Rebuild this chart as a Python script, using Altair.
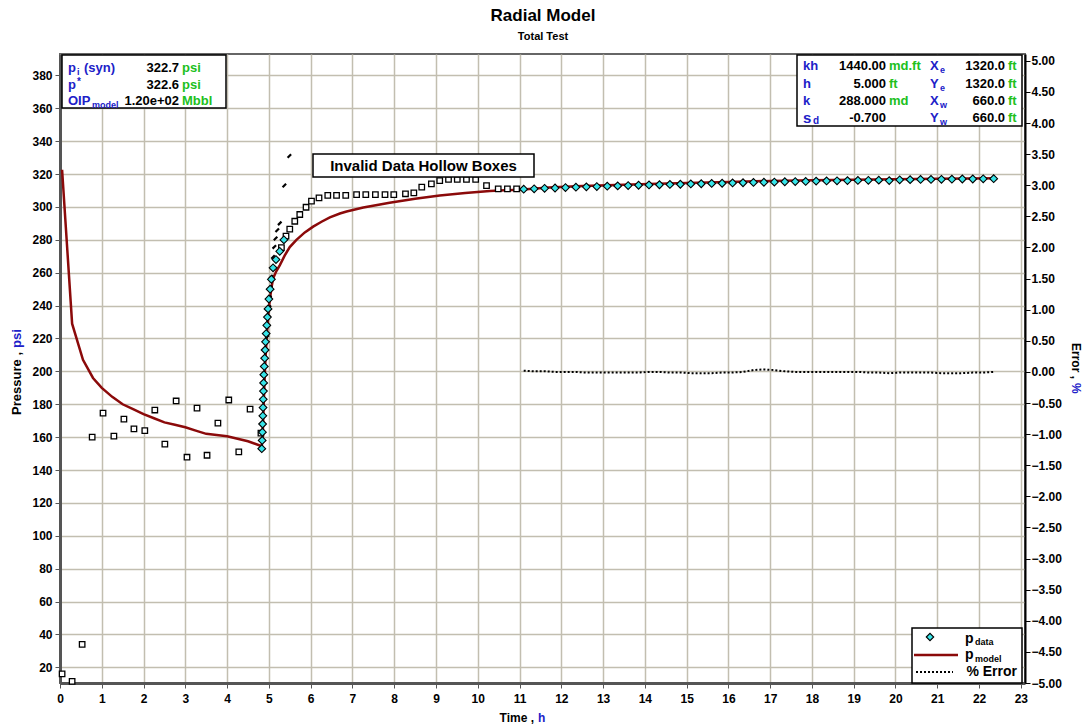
import altair as alt
import pandas as pd

# ---------------- data ----------------
# model pressure curve (p_model)
model_t = [0.05, 0.29, 0.55, 0.79, 1.0, 1.25, 1.5, 1.75, 2.0, 2.25, 2.5, 2.75, 3.0, 3.25, 3.5, 3.75, 4.0, 4.25, 4.5, 4.83,
           4.85, 4.87, 4.89, 4.91, 4.93, 4.95, 4.98, 5.02, 5.06, 5.10, 5.18, 5.26, 5.38, 5.50, 5.66, 5.86, 6.06, 6.26,
           6.46, 6.70, 6.86, 7.26, 7.66, 7.89, 8.5, 9.09, 9.7, 10.29, 11.08, 11.7, 12.5, 13.3, 14.1, 15.0, 16.0, 17.0,
           18.0, 19.0, 20.0, 21.0, 22.4]
model_p = [322.6, 229, 207, 196, 190, 184.5, 180, 177, 174, 171.5, 169, 167.5, 166, 164, 162, 161.3, 160.5, 159, 157.5, 154.5,
           160, 175, 190, 203, 213, 221, 233, 243, 250.5, 256.5, 261, 264.5, 270.5, 275.6, 280, 284.5, 288, 291,
           293.6, 296, 297.2, 299.7, 301.5, 302.5, 305, 307, 308.5, 309.7, 310.6, 311.8, 312.7, 313.4, 314.0, 314.6, 315.2, 315.8,
           316.3, 316.6, 316.9, 317.1, 317.4]

# measured data (p_data) - build-up part
pdata_build_t = [4.83, 4.84, 4.845, 4.85, 4.855, 4.86, 4.865, 4.87, 4.875, 4.88, 4.89, 4.90, 4.91, 4.92, 4.935, 4.95,
                 4.965, 4.98, 5.00, 5.03, 5.06, 5.10, 5.17, 5.26, 5.36]
pdata_build_p = [153, 158, 163, 168, 173, 178, 183, 188, 193, 198, 203, 208, 213, 218, 223, 228,
                 233, 238, 244, 250, 256, 263, 268, 273, 280]
# measured data (p_data) - late part
pdata_late_t = [11.10, 11.35, 11.60, 11.85, 12.10, 12.35, 12.60, 12.85, 13.10, 13.35, 13.60, 13.85, 14.10, 14.35, 14.60,
                14.85, 15.10, 15.35, 15.60, 15.85, 16.10, 16.35, 16.60, 16.85, 17.10, 17.35, 17.60, 17.85, 18.10, 18.35,
                18.60, 18.85, 19.10, 19.35, 19.60, 19.85, 20.10, 20.35, 20.60, 20.85, 21.10, 21.35, 21.60, 21.85, 22.10, 22.35]
pdata_late_p = [310.8, 311.0, 311.3, 311.5, 311.8, 312.0, 312.2, 312.4, 312.6, 312.8, 313.0, 313.2, 313.4, 313.5, 313.7,
                313.8, 314.0, 314.1, 314.3, 314.4, 314.6, 314.7, 314.9, 315.0, 315.1, 315.3, 315.4, 315.5, 315.7, 315.8,
                315.9, 316.0, 316.1, 316.2, 316.3, 316.0, 316.5, 316.6, 316.7, 316.7, 316.8, 316.9, 317.0, 317.0, 317.1, 317.2]

# invalid data (hollow boxes)
invalid_t = [0.05, 0.29, 0.53, 0.77, 1.03, 1.29, 1.53, 1.77, 2.03, 2.27, 2.51, 2.78, 3.04, 3.28, 3.52, 3.78, 4.04, 4.28,
             4.55, 4.81, 5.30, 5.41, 5.50, 5.62, 5.74, 5.89, 6.02, 6.20, 6.41, 6.62, 6.84, 7.10, 7.32, 7.55, 7.78, 7.99,
             8.27, 8.47, 8.66, 8.89, 9.09, 9.30, 9.51, 9.73, 9.95, 10.21, 10.49, 10.71, 10.93]
invalid_p = [16.0, 11.5, 34, 160, 174.6, 160.6, 171, 165, 164, 176.5, 155.8, 182, 147.8, 177.7, 149, 168.5, 182.6, 151,
             177, 162.5, 275.3, 282.2, 286.5, 291.3, 295.4, 299.8, 303.5, 305.5, 307, 307, 307, 307.5, 307.5, 307.5, 307.5, 307.5,
             308, 308.5, 312, 314, 316, 316.7, 316.7, 316.7, 316.7, 313, 311, 311, 311]

# small black markers on the build-up
dots_t = [4.96, 4.98, 4.99, 5.01, 5.02, 5.04, 5.05, 5.08, 5.10, 5.13, 5.16, 5.20, 5.26, 5.37, 5.49]
dots_p = [221, 227, 233, 239, 245, 251, 257.5, 263.5, 269.6, 275.7, 280.8, 285.8, 290, 313, 331]

# % error
err_t = pdata_late_t
err_v = [0.02, 0.01, 0.01, 0.0, 0.0, 0.0, -0.01, -0.01, -0.01, -0.01, -0.01, -0.01, 0.0, 0.0, -0.01,
         -0.01, -0.02, -0.02, -0.02, -0.01, -0.01, 0.0, 0.03, 0.04, 0.03, 0.01, 0.0, 0.0, 0.0, 0.0,
         0.0, 0.0, 0.0, -0.01, -0.01, -0.02, -0.01, -0.01, -0.01, -0.01, -0.02, -0.02, -0.02, -0.01, -0.01, 0.0]

x_ticks = [0, 1, 2, 3, 4, 5, 6, 7, 8, 9, 10, 11, 12, 13, 14, 15, 16, 17, 18, 19, 20, 21, 22, 23]
y_ticks = [20, 40, 60, 80, 100, 120, 140, 160, 180, 200, 220, 240, 260, 280, 300, 320, 340, 360, 380]
err_ticks = [-5.0, -4.5, -4.0, -3.5, -3.0, -2.5, -2.0, -1.5, -1.0, -0.5, 0.0, 0.5, 1.0, 1.5, 2.0, 2.5, 3.0, 3.5, 4.0, 4.5, 5.0]

# ---------------- style ----------------
FONT = "Liberation Sans"
BLUE = "#2020c8"
GREEN = "#20c020"
RED = "#8b0a0a"
CYAN = "#38e4e8"
GRID = "#c2beb0"
OX, OY = 60, 54
W, H = 965, 629

model_df = pd.DataFrame({"t": model_t, "p": model_p})
pdata_df = pd.DataFrame({"t": pdata_build_t + pdata_late_t, "p": pdata_build_p + pdata_late_p})
inv_df = pd.DataFrame({"t": invalid_t, "p": invalid_p})
dots_df = pd.DataFrame({"t": dots_t, "p": dots_p})
err_df = pd.DataFrame({"t": err_t, "e": err_v})
dummy = pd.DataFrame({"d": [0]})


def X():
    return alt.X("t:Q", scale=alt.Scale(domain=[0, 23.1], nice=False, zero=False),
                 axis=alt.Axis(values=x_ticks, title=None, grid=True, gridColor=GRID, gridWidth=1.5,
                               labelFont=FONT, labelFontWeight="bold", labelFontSize=12, labelColor="black",
                               tickColor="#555", tickSize=5, domainColor="#555", domainWidth=3,
                               labelPadding=5, labelFlush=False, labelOverlap=False, format="d"))


def Y():
    return alt.Y("p:Q", scale=alt.Scale(domain=[10.5, 393], nice=False, zero=False),
                 axis=alt.Axis(values=y_ticks, title=None, grid=True, gridColor=GRID, gridWidth=1.5,
                               labelFont=FONT, labelFontWeight="bold", labelFontSize=12, labelColor="black",
                               tickColor="#555", tickSize=5, domainColor="#555", domainWidth=3,
                               labelPadding=3, labelFlush=False, labelOverlap=False, format="d"))


model_line = alt.Chart(model_df).mark_line(color=RED, strokeWidth=2.5).encode(x=X(), y=Y(), order="t:Q")
inv_pts = alt.Chart(inv_df).mark_square(filled=True, fill="white", stroke="black", strokeWidth=1.3,
                                        size=30, opacity=1).encode(x=X(), y=Y())
pdata_pts = alt.Chart(pdata_df).mark_point(shape="diamond", filled=True, fill=CYAN, stroke="black",
                                           strokeWidth=1.1, size=60, opacity=1).encode(x=X(), y=Y())
dot_pts = alt.Chart(dots_df).mark_point(shape="M -1 1 L 1 -1", filled=False, stroke="black",
                                        strokeWidth=2.2, size=12, opacity=1).encode(x=X(), y=Y())

pressure = alt.layer(model_line, inv_pts, dot_pts, pdata_pts)

err_line = alt.Chart(err_df).mark_line(color="black", strokeWidth=2, strokeDash=[2, 2]).encode(
    x=X(),
    y=alt.Y("e:Q", scale=alt.Scale(domain=[-5, 5.11], nice=False, zero=False),
            axis=alt.Axis(orient="right", values=err_ticks, format=".2f", title=None, grid=False,
                          labelFont=FONT, labelFontWeight="bold", labelFontSize=12, labelColor="black",
                          tickColor="black", tickSize=5, domainColor="black", domainWidth=2,
                          labelPadding=1, labelFlush=False, labelOverlap=False)),
    order="t:Q")

base = alt.layer(pressure, err_line).resolve_scale(y="independent")


def T(s, ax, ay, size=13, color="black", align="left", angle=0, weight="bold"):
    return alt.Chart(dummy).mark_text(text=s, font=FONT, fontSize=size, fontWeight=weight, color=color,
                                      align=align, baseline="middle", angle=angle).encode(
        x=alt.value(ax - OX), y=alt.value(ay - OY))


def R(x1, y1, x2, y2, sw=1.5):
    return alt.Chart(dummy).mark_rect(fill="white", stroke="black", strokeWidth=sw).encode(
        x=alt.value(x1 - OX), x2=alt.value(x2 - OX), y=alt.value(y1 - OY), y2=alt.value(y2 - OY))


ann = []
# titles
ann.append(T("Radial Model", 543, 16, size=17, align="center"))
ann.append(T("Total Test", 543, 37, size=11, align="center"))
# axis titles
ann.append(T("Time ,", 534, 718, size=12, align="right"))
ann.append(T("h", 538, 718, size=12, color=BLUE))
ann.append(T("Pressure ,", 17, 352, size=13, align="right", angle=270))
ann.append(T("psi", 17, 348, size=13, color=BLUE, align="left", angle=270))
ann.append(T("Error ,", 1076, 343, size=12, align="left", angle=90))
ann.append(T("%", 1076, 383, size=12, color=BLUE, align="left", angle=90))

# top-left info box
ann.append(R(62, 55, 226, 108))
rows_l = [68, 84.5, 101]
ann.append(T("p", 68, rows_l[0], color=BLUE))
ann.append(T("i", 77, rows_l[0] + 4, size=9, color=BLUE))
ann.append(T("(syn)", 84, rows_l[0], color=BLUE))
ann.append(T("322.7", 179, rows_l[0], align="right"))
ann.append(T("psi", 182, rows_l[0], color=GREEN))
ann.append(T("p", 68, rows_l[1], color=BLUE))
ann.append(T("*", 77, rows_l[1] - 3, size=10, color=BLUE))
ann.append(T("322.6", 179, rows_l[1], align="right"))
ann.append(T("psi", 182, rows_l[1], color=GREEN))
ann.append(T("OIP", 68, rows_l[2], color=BLUE))
ann.append(T("model", 92, rows_l[2] + 4, size=9, color=BLUE))
ann.append(T("1.20e+02", 179, rows_l[2], align="right"))
ann.append(T("Mbbl", 182, rows_l[2], color=GREEN))

# top-right info box
ann.append(R(797, 55, 1022, 126))
rows_r = [66, 83.5, 101, 118]
ann.append(T("kh", 803, rows_r[0], color=BLUE))
ann.append(T("1440.00", 886, rows_r[0], align="right"))
ann.append(T("md.ft", 889, rows_r[0], color=GREEN))
ann.append(T("h", 803, rows_r[1], color=BLUE))
ann.append(T("5.000", 886, rows_r[1], align="right"))
ann.append(T("ft", 889, rows_r[1], color=GREEN))
ann.append(T("k", 803, rows_r[2], color=BLUE))
ann.append(T("288.000", 886, rows_r[2], align="right"))
ann.append(T("md", 889, rows_r[2], color=GREEN))
ann.append(T("s", 803, rows_r[3], size=15, color=BLUE))
ann.append(T("d", 813, rows_r[3] + 3, size=10, color=BLUE))
ann.append(T("-0.700", 886, rows_r[3], align="right"))
for i, (lab, sub, val) in enumerate([("X", "e", "1320.0"), ("Y", "e", "1320.0"), ("X", "w", "660.0"), ("Y", "w", "660.0")]):
    ann.append(T(lab, 930, rows_r[i], color=BLUE))
    ann.append(T(sub, 940, rows_r[i] + 4, size=9, color=BLUE))
    ann.append(T(val, 1005, rows_r[i], align="right"))
    ann.append(T("ft", 1008, rows_r[i], color=GREEN))

# invalid data label
ann.append(R(313, 154, 534, 177))
ann.append(T("Invalid Data Hollow Boxes", 423.5, 166, size=15, align="center"))

# legend
ann.append(R(912, 628, 1022, 683))
ann.append(alt.Chart(dummy).mark_point(shape="diamond", filled=True, fill=CYAN, stroke="black",
                                       strokeWidth=1.1, size=55, opacity=1).encode(
    x=alt.value(930 - OX), y=alt.value(637 - OY)))
ann.append(alt.Chart(dummy).mark_rule(color=RED, strokeWidth=2.5).encode(
    x=alt.value(914 - OX), x2=alt.value(958 - OX), y=alt.value(655 - OY)))
ann.append(alt.Chart(dummy).mark_rule(color="black", strokeWidth=2, strokeDash=[2, 2]).encode(
    x=alt.value(916 - OX), x2=alt.value(953 - OX), y=alt.value(672 - OY)))
ann.append(T("p", 965, 639, size=14))
ann.append(T("data", 975, 642, size=9))
ann.append(T("p", 965, 655, size=14))
ann.append(T("model", 975, 659, size=9))
ann.append(T("% Error", 1017, 672, size=14, align="right"))

chart = alt.layer(base, *ann).properties(
    width=W, height=H,
    autosize=alt.AutoSizeParams(type="none"),
    padding={"left": OX, "top": OY, "right": 1086 - OX - W, "bottom": 728 - OY - H},
    background="white",
).configure_view(stroke="#666", strokeWidth=2)

chart.save("out.html", embed_options={"renderer": "svg", "actions": False})
